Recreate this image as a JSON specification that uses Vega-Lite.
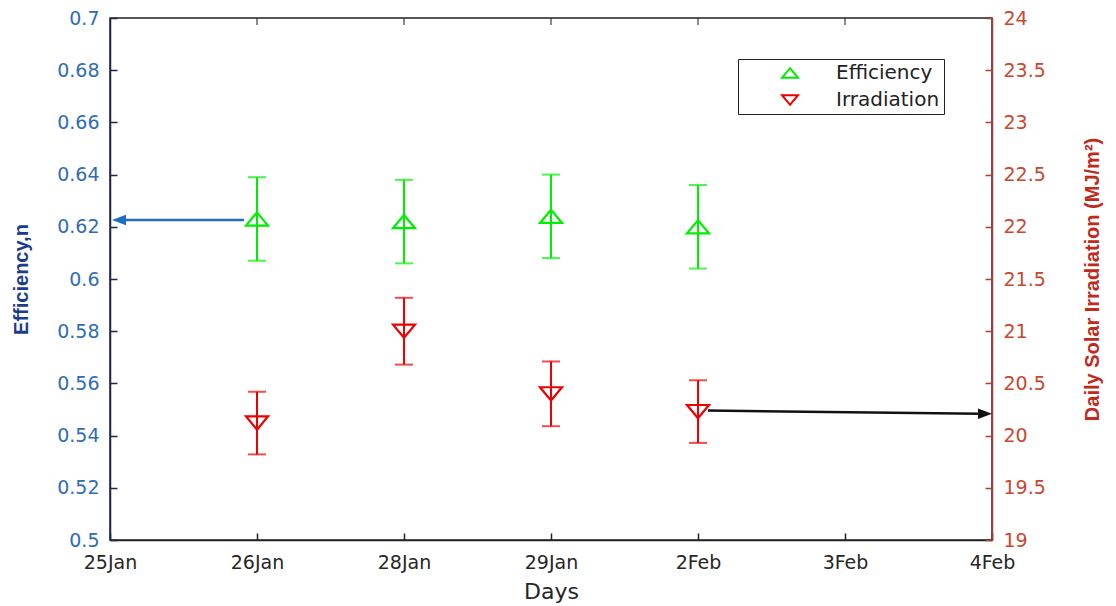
{
  "$schema": "https://vega.github.io/schema/vega-lite/v6.json",
  "width": 882,
  "height": 522,
  "autosize": "none",
  "padding": {"left": 110, "top": 18, "right": 124, "bottom": 66},
  "background": "white",
  "config": {"view": {"stroke": "#222222", "strokeWidth": 1.5}, "font": "DejaVu Sans"},
  "datasets": {
    "eff": [
      {"day": "26Jan", "series": "Efficiency", "v": 0.623, "lo": 0.607, "hi": 0.639},
      {"day": "28Jan", "series": "Efficiency", "v": 0.622, "lo": 0.606, "hi": 0.638},
      {"day": "29Jan", "series": "Efficiency", "v": 0.624, "lo": 0.608, "hi": 0.640},
      {"day": "2Feb", "series": "Efficiency", "v": 0.620, "lo": 0.604, "hi": 0.636}
    ],
    "irr": [
      {"day": "26Jan", "series": "Irradiation", "v": 20.12, "lo": 19.82, "hi": 20.42},
      {"day": "28Jan", "series": "Irradiation", "v": 21.00, "lo": 20.68, "hi": 21.32},
      {"day": "29Jan", "series": "Irradiation", "v": 20.40, "lo": 20.09, "hi": 20.71},
      {"day": "2Feb", "series": "Irradiation", "v": 20.23, "lo": 19.93, "hi": 20.53}
    ],
    "topTicks": [
      {"day": "26Jan", "y": 0.7},
      {"day": "28Jan", "y": 0.7},
      {"day": "29Jan", "y": 0.7},
      {"day": "2Feb", "y": 0.7},
      {"day": "3Feb", "y": 0.7}
    ],
    "effArrow": [{"day": "26Jan", "day2": "25Jan", "y": 0.6226, "y2": 0.6226}],
    "irrArrow": [{"day": "2Feb", "day2": "4Feb", "y": 20.24, "y2": 20.21}]
  },
  "layer": [
    {
      "layer": [
        {
          "data": {"name": "eff"},
          "mark": {"type": "rule", "color": "#00ee00", "strokeWidth": 2},
          "encoding": {
            "x": {
              "field": "day", "type": "ordinal",
              "scale": {"type": "point", "domain": ["25Jan", "26Jan", "28Jan", "29Jan", "2Feb", "3Feb", "4Feb"], "padding": 0},
              "axis": {
                "title": "Days", "titleFont": "DejaVu Sans", "titleFontSize": 22, "titleFontWeight": "normal", "titleColor": "#262626", "titlePadding": 9,
                "labelFontSize": 19, "labelColor": "#262626", "labelAngle": 0, "labelPadding": 20,
                "domainColor": "#222222", "domainWidth": 1.5, "tickColor": "#222222", "tickSize": -7, "tickWidth": 1.5, "grid": false
              }
            },
            "y": {
              "field": "lo", "type": "quantitative",
              "scale": {"domain": [0.5, 0.7], "nice": false, "zero": false},
              "axis": {
                "orient": "left", "title": "Efficiency,n", "titleFont": "Liberation Sans", "titleFontSize": 20, "titleFontWeight": "bold", "titleColor": "#1b3c8c", "titlePadding": 25,
                "values": [0.5, 0.52, 0.54, 0.56, 0.58, 0.6, 0.62, 0.64, 0.66, 0.68, 0.7], "format": ".2~f",
                "labelFontSize": 19, "labelColor": "#2e6db4", "labelPadding": 18,
                "domainColor": "#1c2550", "domainWidth": 1.5, "tickColor": "#1c2550", "tickSize": -7, "tickWidth": 1.5, "grid": false
              }
            },
            "y2": {"field": "hi"}
          }
        },
        {
          "data": {"name": "eff"},
          "mark": {"type": "tick", "orient": "horizontal", "size": 18, "thickness": 2, "color": "#00ee00"},
          "encoding": {
            "x": {"field": "day", "type": "ordinal"},
            "y": {"field": "lo", "type": "quantitative", "scale": {"domain": [0.5, 0.7], "nice": false, "zero": false}}
          }
        },
        {
          "data": {"name": "eff"},
          "mark": {"type": "tick", "orient": "horizontal", "size": 18, "thickness": 2, "color": "#00ee00"},
          "encoding": {
            "x": {"field": "day", "type": "ordinal"},
            "y": {"field": "hi", "type": "quantitative", "scale": {"domain": [0.5, 0.7], "nice": false, "zero": false}}
          }
        },
        {
          "data": {"name": "topTicks"},
          "mark": {"type": "tick", "orient": "vertical", "size": 7, "thickness": 1.5, "color": "#222222", "yOffset": 3.5},
          "encoding": {
            "x": {"field": "day", "type": "ordinal"},
            "y": {"field": "y", "type": "quantitative", "scale": {"domain": [0.5, 0.7], "nice": false, "zero": false}}
          }
        },
        {
          "data": {"name": "eff"},
          "mark": {"type": "point", "filled": false, "strokeWidth": 2.2, "size": 484, "opacity": 1},
          "encoding": {
            "x": {"field": "day", "type": "ordinal"},
            "y": {"field": "v", "type": "quantitative", "scale": {"domain": [0.5, 0.7], "nice": false, "zero": false}},
            "color": {
              "field": "series", "type": "nominal",
              "scale": {"domain": ["Efficiency", "Irradiation"], "range": ["#00ee00", "#ee0000"]},
              "legend": {
                "title": null, "orient": "none", "legendX": 628, "legendY": 41,
                "strokeColor": "#222222", "fillColor": "white", "padding": 4,
                "symbolSize": 256, "symbolStrokeWidth": 2, "symbolOffset": 38, "labelOffset": 36,
                "labelFontSize": 20, "labelColor": "#222222", "labelFont": "DejaVu Sans", "rowPadding": 7
              }
            },
            "shape": {
              "field": "series", "type": "nominal",
              "scale": {"domain": ["Efficiency", "Irradiation"], "range": ["M0,-0.6L1,0.6L-1,0.6Z", "M0,0.6L1,-0.6L-1,-0.6Z"]},
              "legend": {
                "title": null, "orient": "none", "legendX": 628, "legendY": 41,
                "strokeColor": "#222222", "fillColor": "white", "padding": 4,
                "symbolSize": 256, "symbolStrokeWidth": 2, "symbolOffset": 38, "labelOffset": 36,
                "labelFontSize": 20, "labelColor": "#222222", "labelFont": "DejaVu Sans", "rowPadding": 7
              }
            }
          }
        },
        {
          "data": {"name": "effArrow"},
          "mark": {"type": "rule", "color": "#1f6fc0", "strokeWidth": 2.5, "xOffset": -13, "x2Offset": 12},
          "encoding": {
            "x": {"field": "day", "type": "ordinal"},
            "x2": {"field": "day2"},
            "y": {"field": "y", "type": "quantitative", "scale": {"domain": [0.5, 0.7], "nice": false, "zero": false}},
            "y2": {"field": "y2"}
          }
        },
        {
          "data": {"name": "effArrow"},
          "mark": {"type": "point", "filled": true, "opacity": 1, "color": "#1f6fc0", "size": 196, "shape": "M-1,0L1,-0.75L1,0.75Z", "xOffset": 9},
          "encoding": {
            "x": {"field": "day2", "type": "ordinal"},
            "y": {"field": "y", "type": "quantitative", "scale": {"domain": [0.5, 0.7], "nice": false, "zero": false}}
          }
        }
      ]
    },
    {
      "layer": [
        {
          "data": {"name": "irr"},
          "mark": {"type": "rule", "color": "#ee0000", "strokeWidth": 2},
          "encoding": {
            "x": {"field": "day", "type": "ordinal"},
            "y": {
              "field": "lo", "type": "quantitative",
              "scale": {"domain": [19, 24], "nice": false, "zero": false},
              "axis": {
                "orient": "right", "title": "Daily Solar Irradiation (MJ/m²)", "titleFont": "Liberation Sans", "titleFontSize": 20, "titleFontWeight": "bold", "titleColor": "#c02a1c", "titleAngle": 270, "titlePadding": 57,
                "values": [19, 19.5, 20, 20.5, 21, 21.5, 22, 22.5, 23, 23.5, 24], "format": ".1~f",
                "labelFontSize": 19, "labelColor": "#c9472d", "labelPadding": 18,
                "domainColor": "#b03a3a", "domainWidth": 1.5, "tickColor": "#b03a3a", "tickSize": -7, "tickWidth": 1.5, "grid": false
              }
            },
            "y2": {"field": "hi"}
          }
        },
        {
          "data": {"name": "irr"},
          "mark": {"type": "tick", "orient": "horizontal", "size": 18, "thickness": 2, "color": "#ee0000"},
          "encoding": {
            "x": {"field": "day", "type": "ordinal"},
            "y": {"field": "lo", "type": "quantitative", "scale": {"domain": [19, 24], "nice": false, "zero": false}}
          }
        },
        {
          "data": {"name": "irr"},
          "mark": {"type": "tick", "orient": "horizontal", "size": 18, "thickness": 2, "color": "#ee0000"},
          "encoding": {
            "x": {"field": "day", "type": "ordinal"},
            "y": {"field": "hi", "type": "quantitative", "scale": {"domain": [19, 24], "nice": false, "zero": false}}
          }
        },
        {
          "data": {"name": "irr"},
          "mark": {"type": "point", "filled": false, "strokeWidth": 2.2, "size": 484, "opacity": 1},
          "encoding": {
            "x": {"field": "day", "type": "ordinal"},
            "y": {"field": "v", "type": "quantitative", "scale": {"domain": [19, 24], "nice": false, "zero": false}},
            "color": {"field": "series", "type": "nominal", "legend": null},
            "shape": {"field": "series", "type": "nominal", "legend": null}
          }
        },
        {
          "data": {"name": "irrArrow"},
          "mark": {"type": "rule", "color": "#111111", "strokeWidth": 2.5, "xOffset": 10, "x2Offset": -12},
          "encoding": {
            "x": {"field": "day", "type": "ordinal"},
            "x2": {"field": "day2"},
            "y": {"field": "y", "type": "quantitative", "scale": {"domain": [19, 24], "nice": false, "zero": false}},
            "y2": {"field": "y2"}
          }
        },
        {
          "data": {"name": "irrArrow"},
          "mark": {"type": "point", "filled": true, "opacity": 1, "color": "#111111", "size": 196, "shape": "M1,0L-1,-0.75L-1,0.75Z", "xOffset": -7},
          "encoding": {
            "x": {"field": "day2", "type": "ordinal"},
            "y": {"field": "y2", "type": "quantitative", "scale": {"domain": [19, 24], "nice": false, "zero": false}}
          }
        }
      ]
    }
  ],
  "resolve": {"scale": {"y": "independent"}}
}
